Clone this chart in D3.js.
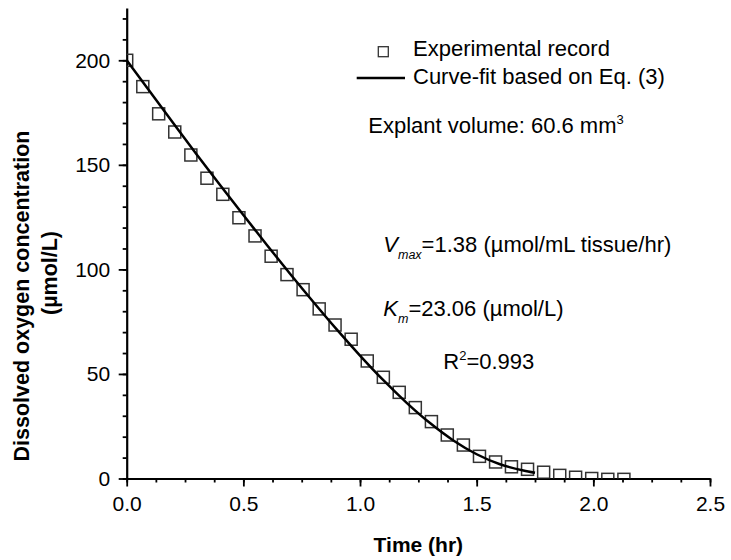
<!DOCTYPE html>
<html>
<head>
<meta charset="utf-8">
<script src="https://cdn.jsdelivr.net/npm/d3@7"></script>
<style>
  body { margin: 0; background: #fff; }
  svg { display: block; font-family: "Liberation Sans", Arial, sans-serif; }
</style>
</head>
<body>
<svg id="chart"></svg>
<script>
// measured oxygen record (hr, umol/L)
const timeHr = [0, 0.069, 0.137, 0.206, 0.275, 0.344, 0.412, 0.481, 0.550, 0.619, 0.687, 0.756,
  0.825, 0.893, 0.962, 1.031, 1.100, 1.168, 1.237, 1.306, 1.374, 1.443, 1.512, 1.581,
  1.649, 1.718, 1.787, 1.856, 1.924, 1.993, 2.062, 2.131]
const oxygen = [200, 187.4, 174.4, 165.7, 154.7, 143.6, 135.9, 124.7, 116.0, 106.3, 97.5, 90.3,
  81.1, 73.4, 66.6, 56.2, 48.4, 41.2, 33.9, 27.2, 20.8, 16.0, 10.6, 7.9,
  5.6, 4.4, 3.0, 1.5, 0.6, 0.0, -0.4, -0.4]

// curve-fit
const fitTime = [0, 0.1, 0.2, 0.3, 0.4, 0.5, 0.6, 0.7, 0.8, 0.9, 1.0, 1.1, 1.2, 1.3, 1.4, 1.5, 1.6, 1.7, 1.75]
const fitOxygen = [200, 184.9, 169.9, 155.0, 140.4, 126.0, 111.8, 97.9, 84.4, 71.3, 58.8, 47.0,
  36.2, 26.5, 18.2, 11.6, 6.8, 3.8, 2.7]

const xTickValues = [0, 0.5, 1.0, 1.5, 2.0, 2.5]
const yTickValues = [0, 50, 100, 150, 200]

const svgWidth = 731
const svgHeight = 560
const marginLeft = 126.7
const marginRight = 21
const marginTop = 8
const marginBottom = 81.5
const fontSize = 21

const svg = d3.select('#chart')
  .attr('width', svgWidth)
  .attr('height', svgHeight)

// scales
const x = d3.scaleLinear()
  .domain([0, 2.5])
  .range([marginLeft, svgWidth - marginRight])

const y = d3.scaleLinear()
  .domain([0, 225])
  .range([svgHeight - marginBottom, marginTop])

// clip for the symbols (they get cut by the axes like in the original)
svg.append('clipPath')
    .attr('id', 'plot-clip')
  .append('rect')
    .attr('x', x(0))
    .attr('y', y(225))
    .attr('width', x(2.5) - x(0))
    .attr('height', y(0) - y(225))

// minor ticks x
svg.append('g')
    .attr('transform', `translate(0,${y(0)})`)
    .call(d3.axisBottom(x).tickValues(d3.range(0, 2.5001, 0.125)).tickSize(4).tickFormat(''))
    .call(g => g.select('.domain').remove())
    .call(g => g.selectAll('line').attr('stroke-width', 1.8))

// minor ticks y
svg.append('g')
    .attr('transform', `translate(${x(0)},0)`)
    .call(d3.axisLeft(y).tickValues(d3.range(0, 225.1, 10)).tickSize(4).tickFormat(''))
    .call(g => g.select('.domain').remove())
    .call(g => g.selectAll('line').attr('stroke-width', 1.8))

// x axis
svg.append('g')
    .attr('transform', `translate(0,${y(0)})`)
    .call(d3.axisBottom(x).tickValues(xTickValues).tickSize(8).tickSizeOuter(0).tickPadding(10)
      .tickFormat(d3.format('.1f')))
    .call(g => g.select('.domain').attr('stroke-width', 2.2))
    .call(g => g.selectAll('line').attr('stroke-width', 1.8))
    .call(g => g.selectAll('text').attr('font-size', fontSize).attr('font-family', null).attr('fill', '#000'))

// y axis
svg.append('g')
    .attr('transform', `translate(${x(0)},0)`)
    .call(d3.axisLeft(y).tickValues(yTickValues).tickSize(8).tickSizeOuter(0).tickPadding(8.5))
    .call(g => g.select('.domain').attr('stroke-width', 2.2))
    .call(g => g.selectAll('line').attr('stroke-width', 1.8))
    .call(g => g.selectAll('text').attr('font-size', fontSize).attr('font-family', null).attr('fill', '#000'))

// axis titles
svg.append('text')
    .attr('x', (x(0) + x(2.5)) / 2)
    .attr('y', 552)
    .attr('text-anchor', 'middle')
    .attr('font-size', fontSize)
    .attr('font-weight', 'bold')
    .text('Time (hr)')

svg.append('text')
    .attr('transform', 'translate(29,296) rotate(-90)')
    .attr('text-anchor', 'middle')
    .attr('font-size', 21.5)
    .attr('font-weight', 'bold')
    .text('Dissolved oxygen concentration')

svg.append('text')
    .attr('transform', 'translate(57,273) rotate(-90)')
    .attr('text-anchor', 'middle')
    .attr('font-size', 21.5)
    .attr('font-weight', 'bold')
    .text('(µmol/L)')

// experimental record
const side = 12
svg.append('g')
    .attr('clip-path', 'url(#plot-clip)')
    .attr('fill', 'none')
    .attr('stroke', '#333')
    .attr('stroke-width', 1.5)
  .selectAll('rect')
  .data(timeHr.map((t, i) => ({ t, c: oxygen[i] })))
  .join('rect')
    .attr('x', d => x(d.t) - side / 2)
    .attr('y', d => y(d.c) - side / 2)
    .attr('width', side)
    .attr('height', side)

// curve fit
const line = d3.line()
  .x(d => x(d.t))
  .y(d => y(d.c))
  .curve(d3.curveMonotoneX)

svg.append('path')
    .datum(fitTime.map((t, i) => ({ t, c: fitOxygen[i] })))
    .attr('fill', 'none')
    .attr('stroke', '#000')
    .attr('stroke-width', 2.5)
    .attr('d', line)

// legend
svg.append('rect')
    .attr('x', 383.3 - 5)
    .attr('y', 51.7 - 5)
    .attr('width', 10)
    .attr('height', 10)
    .attr('fill', 'none')
    .attr('stroke', '#333')
    .attr('stroke-width', 1.3)

svg.append('line')
    .attr('x1', 356.7)
    .attr('x2', 405)
    .attr('y1', 78)
    .attr('y2', 78)
    .attr('stroke', '#000')
    .attr('stroke-width', 2.5)

const annoSize = 22

svg.append('text')
    .attr('x', 413)
    .attr('y', 56)
    .attr('font-size', annoSize)
    .text('Experimental record')

svg.append('text')
    .attr('x', 413)
    .attr('y', 84)
    .attr('font-size', annoSize)
    .text('Curve-fit based on Eq. (3)')

// annotations
const explant = svg.append('text')
    .attr('x', 368.3)
    .attr('y', 133)
    .attr('font-size', annoSize)
explant.append('tspan').text('Explant volume: 60.6 mm')
explant.append('tspan').attr('font-size', 13).attr('dy', -9).text('3')

const vmax = svg.append('text')
    .attr('x', 383.3)
    .attr('y', 252)
    .attr('font-size', annoSize)
vmax.append('tspan').attr('font-style', 'italic').text('V')
vmax.append('tspan').attr('font-style', 'italic').attr('font-size', 12.5).attr('dy', 7).text('max')
vmax.append('tspan').attr('dy', -7).text('=1.38 (µmol/mL tissue/hr)')

const km = svg.append('text')
    .attr('x', 383.3)
    .attr('y', 315.5)
    .attr('font-size', annoSize)
km.append('tspan').attr('font-style', 'italic').text('K')
km.append('tspan').attr('font-style', 'italic').attr('font-size', 12.5).attr('dy', 7).text('m')
km.append('tspan').attr('dy', -7).text('=23.06 (µmol/L)')

const r2 = svg.append('text')
    .attr('x', 443.3)
    .attr('y', 369)
    .attr('font-size', annoSize)
r2.append('tspan').text('R')
r2.append('tspan').attr('font-size', 13).attr('dy', -9).text('2')
r2.append('tspan').attr('dy', 9).text('=0.993')
</script>
</body>
</html>
